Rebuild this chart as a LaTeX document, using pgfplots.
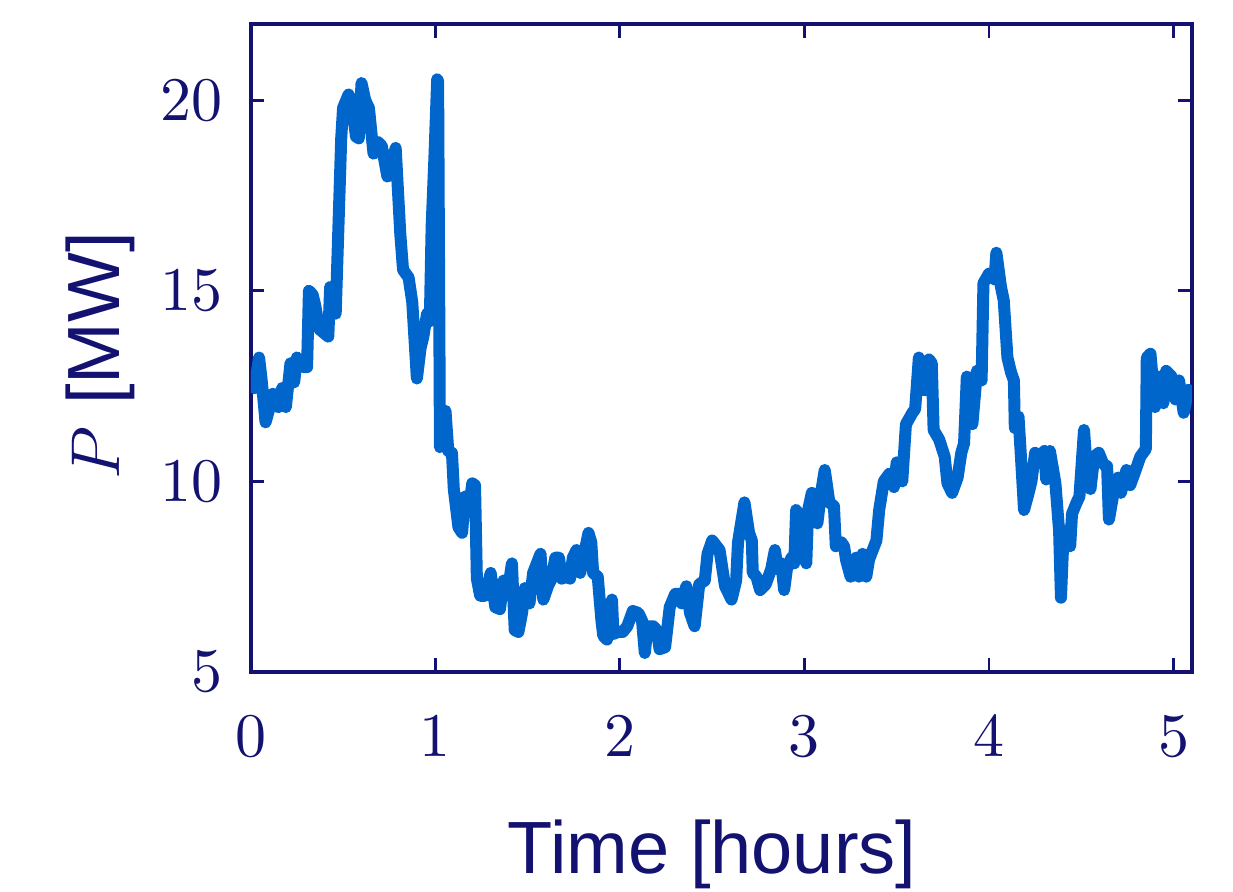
\documentclass[border=0pt]{standalone}
\usepackage[no-math]{fontspec}
\usepackage{pgfplots}
\pgfplotsset{compat=1.18}
\newfontfamily\arialfont{Liberation Sans}
\definecolor{navy}{RGB}{20,18,112}
\definecolor{lineblue}{RGB}{0,102,204}
\begin{document}
\begin{tikzpicture}
\begin{axis}[
  name=ax,
  at={(0,0)}, anchor=south west,
  scale only axis,
  width=235.3pt, height=162pt,
  xmin=0, xmax=5.1, ymin=5, ymax=22,
  xtick={0,1,2,3,4,5},
  ytick={5,10,15,20},
  tick align=inside,
  major tick length=3.4pt,
  axis line style={navy, line width=1.1pt},
  every tick/.style={navy, line width=0.7pt},
  ticklabel style={text=navy, font=\fontsize{10}{12}\selectfont, scale=1.55},
  xticklabel style={yshift=-3.6pt},
  yticklabel style={xshift=-1.0pt},
  xlabel={\arialfont Time [hours]},
  ylabel={$P$ {\arialfont[MW]}},
  every axis x label/.style={at={(axis description cs:0.5,0)}, anchor=base, xshift=-2.3pt, yshift=-50.25pt, text=navy, font=\fontsize{18.5}{22}\selectfont},
  every axis y label/.style={at={(axis description cs:0,0.5)}, xshift=-37.5pt, yshift=-2pt, rotate=90, anchor=center, text=navy, font=\fontsize{18.5}{22}\selectfont},
]
\addplot[lineblue, line width=3pt, line join=round, line cap=round] coordinates {
(0.005,12.5) (0.02,12.45) (0.045,13.25) (0.06,12.6) (0.08,11.55) (0.10,11.9) (0.12,12.3) (0.135,12.1) (0.15,11.95) (0.17,12.45) (0.19,11.95) (0.215,13.1) (0.235,12.6) (0.25,13.25) (0.27,13.05) (0.285,13.0) (0.305,13.0) (0.315,15.0) (0.335,14.9) (0.35,14.6) (0.37,14.0) (0.395,13.9) (0.42,13.8) (0.43,15.1) (0.445,15.0) (0.46,14.4) (0.475,16.7) (0.49,19.0) (0.50,19.8) (0.53,20.15) (0.55,19.8) (0.57,19.05) (0.585,19.0) (0.60,20.45) (0.62,20.0) (0.64,19.8) (0.665,18.6) (0.69,18.9) (0.71,18.8) (0.74,18.0) (0.77,18.45) (0.785,18.75) (0.81,16.5) (0.825,15.55) (0.855,15.35) (0.875,14.7) (0.90,12.7) (0.92,13.5) (0.935,13.8) (0.955,14.4) (0.97,14.2) (0.98,16.7) (0.995,18.5) (1.01,20.55) (1.015,20.5) (1.025,10.9) (1.04,11.3) (1.055,11.85) (1.07,10.8) (1.09,10.75) (1.10,9.8) (1.125,8.8) (1.145,8.65) (1.16,9.6) (1.18,9.2) (1.20,9.95) (1.215,9.9) (1.225,7.45) (1.243,7.0) (1.27,7.0) (1.30,7.6) (1.325,6.7) (1.35,6.65) (1.37,7.4) (1.39,7.05) (1.415,7.85) (1.43,6.1) (1.45,6.05) (1.47,6.55) (1.485,7.2) (1.51,6.8) (1.53,7.6) (1.57,8.1) (1.585,6.9) (1.61,7.25) (1.63,7.45) (1.65,8.0) (1.67,8.0) (1.685,7.45) (1.71,7.5) (1.73,7.45) (1.745,8.0) (1.765,8.2) (1.785,7.6) (1.80,7.95) (1.83,8.65) (1.845,8.4) (1.855,7.6) (1.88,7.5) (1.90,6.35) (1.91,5.95) (1.93,5.85) (1.957,6.9) (1.965,6.0) (1.99,6.05) (2.015,6.05) (2.04,6.2) (2.07,6.6) (2.10,6.55) (2.12,6.35) (2.135,5.5) (2.15,6.2) (2.18,6.2) (2.20,6.1) (2.215,5.6) (2.245,5.65) (2.27,6.7) (2.30,7.05) (2.32,7.05) (2.335,6.8) (2.36,7.25) (2.38,6.55) (2.405,6.2) (2.43,7.3) (2.46,7.4) (2.475,8.1) (2.50,8.45) (2.54,8.2) (2.57,7.25) (2.605,6.9) (2.63,7.4) (2.64,8.4) (2.675,9.45) (2.70,8.65) (2.715,8.45) (2.72,7.6) (2.74,7.5) (2.76,7.15) (2.79,7.3) (2.82,7.7) (2.84,8.2) (2.855,7.7) (2.875,7.85) (2.89,7.15) (2.905,7.7) (2.93,8.0) (2.945,7.85) (2.955,9.25) (2.97,9.1) (3.01,7.85) (3.02,9.25) (3.04,9.7) (3.055,9.55) (3.07,8.9) (3.09,9.7) (3.11,10.3) (3.135,9.45) (3.16,9.35) (3.17,8.3) (3.20,8.4) (3.215,8.3) (3.225,7.95) (3.25,7.5) (3.28,8.0) (3.295,7.5) (3.315,8.1) (3.335,7.5) (3.35,7.95) (3.37,8.2) (3.39,8.45) (3.405,9.25) (3.43,10.0) (3.46,10.2) (3.485,9.85) (3.50,10.5) (3.53,10.0) (3.55,11.5) (3.585,11.8) (3.60,11.9) (3.62,13.25) (3.64,12.4) (3.66,12.4) (3.675,13.2) (3.69,13.1) (3.70,11.35) (3.73,11.1) (3.76,10.65) (3.775,9.95) (3.80,9.7) (3.83,10.1) (3.85,10.75) (3.865,11.0) (3.88,12.75) (3.90,12.1) (3.91,11.5) (3.935,12.9) (3.96,12.65) (3.97,15.2) (4.00,15.45) (4.03,15.3) (4.04,16.0) (4.065,15.1) (4.08,14.75) (4.10,13.25) (4.12,12.85) (4.135,12.65) (4.14,11.4) (4.16,11.7) (4.175,10.5) (4.19,9.25) (4.215,9.7) (4.23,10.0) (4.25,10.75) (4.28,10.65) (4.30,10.8) (4.31,10.05) (4.33,10.8) (4.36,9.95) (4.38,8.7) (4.39,6.95) (4.405,8.7) (4.425,8.7) (4.44,8.3) (4.45,9.15) (4.475,9.45) (4.49,9.6) (4.515,11.35) (4.53,10.3) (4.55,9.8) (4.57,10.65) (4.595,10.75) (4.62,10.45) (4.64,10.4) (4.65,9.0) (4.675,9.7) (4.70,10.1) (4.715,9.7) (4.745,10.3) (4.765,9.9) (4.795,10.3) (4.82,10.65) (4.85,10.85) (4.855,13.25) (4.875,13.35) (4.90,11.95) (4.92,12.75) (4.945,12.05) (4.96,12.9) (4.99,12.75) (5.01,12.15) (5.03,12.65) (5.055,11.8) (5.08,12.4)
};
\end{axis}
\pgfresetboundingbox
\path (-62.7pt,-54.75pt) rectangle (245.55pt,168pt);
\end{tikzpicture}
\end{document}
